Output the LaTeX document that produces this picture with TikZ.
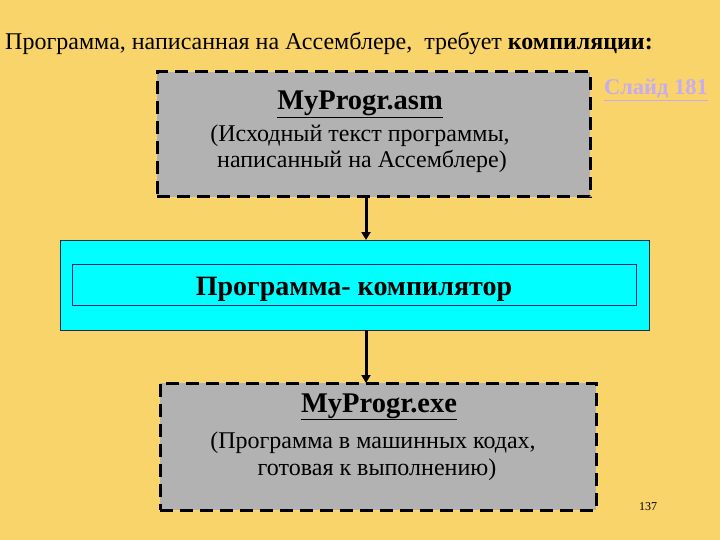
\documentclass[tikz,border=0pt]{standalone}
\usepackage{fontspec}
\setmainfont{Liberation Serif}
\usetikzlibrary{arrows.meta,positioning}
\definecolor{slideBg}{HTML}{F9D46A}
\definecolor{boxGray}{HTML}{B2B2B2}
\definecolor{boxCyan}{HTML}{00FFFF}
\definecolor{cyanEdge}{HTML}{1E2E48}
\definecolor{linkLilac}{HTML}{C8ABF0}
\tikzset{
  filebox/.style={draw=black,fill=boxGray,line width=3pt,dash pattern=on 13pt off 7pt,
                  inner sep=0pt,outer sep=0pt},
  compbox/.style={draw=cyanEdge,fill=boxCyan,line width=1pt,inner sep=0pt,outer sep=0pt},
  framebox/.style={draw=cyanEdge!80!blue,line width=0.8pt,inner sep=0pt},
  filename/.style={font=\fontsize{28.5}{30}\selectfont\bfseries,anchor=base},
  fileline/.style={font=\fontsize{24}{26}\selectfont,anchor=base},
  conn/.style={line width=3pt,-{Triangle[length=8pt,width=9pt]}},
}
\begin{document}
\begin{tikzpicture}[x=1pt,y=-1pt]
    \fill[slideBg] (0,0) rectangle (720,540);
    \useasboundingbox (0,0) rectangle (720,540);
    % heading
    \node[anchor=base west,inner sep=0pt,font=\fontsize{24}{26}\selectfont] (head) at (5,50)
      {Программа, написанная на Ассемблере,\ \ требует \textbf{компиляции:}};
    \node[anchor=base,inner sep=0pt,text=linkLilac,font=\fontsize{22.5}{24}\selectfont\bfseries] (link) at (656,95)
      {\underline{Слайд 181}};
    % source file
    \node[filebox,minimum width=433,minimum height=125] (src) at (373.5,134.5) {};
    \node[filename] (srcname) at (360,110) {\underline{MyProgr.asm}};
    \node[fileline] (srctxt1) at (360,142) {(Исходный текст программы,};
    \node[fileline] (srctxt2) at (362,168) {написанный на Ассемблере)};
    % compiler
    \node[compbox,minimum width=589,minimum height=90] (cmp) at (354.5,285) {};
    \node[framebox,minimum width=564,minimum height=41] (cmpframe) at (354,284.5) {};
    \node[anchor=base,font=\fontsize{28}{30}\selectfont\bfseries] (cmpname) at (354,295)
      {Программа- компилятор};
    % executable
    \node[filebox,minimum width=436,minimum height=127] (exe) at (378,446.5) {};
    \node[filename] (exename) at (379,412) {\underline{MyProgr.exe}};
    \node[fileline] (exetxt1) at (373,448) {(Программа в машинных кодах,};
    \node[fileline] (exetxt2) at (377,475) {готовая к выполнению)};
    \node[anchor=base,font=\fontsize{12}{14}\selectfont] (pageno) at (648,510) {137};
    % connectors
    \coordinate (axis) at (366,0);
    \draw[conn] (src.south -| axis) -- (cmp.north -| axis);
    \draw[conn] (cmp.south -| axis) -- (exe.north -| axis);
\end{tikzpicture}
\end{document}
